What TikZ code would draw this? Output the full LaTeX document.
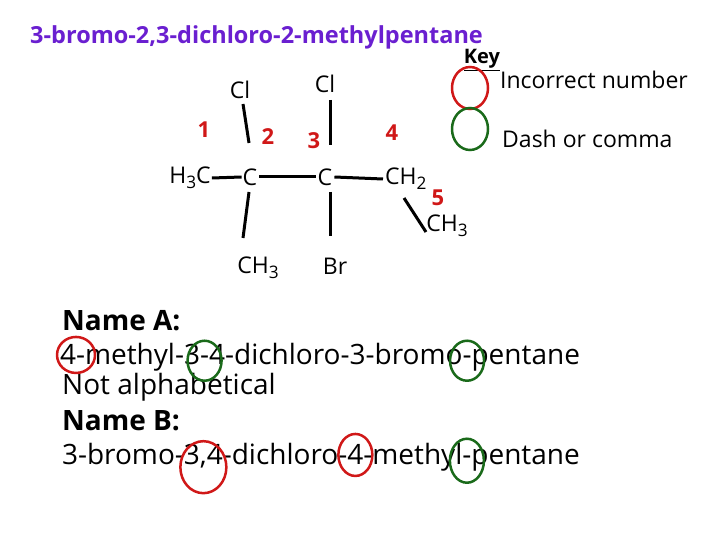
\documentclass[tikz,border=0pt]{standalone}
\usepackage{fontspec}
\setmainfont{Open Sans}
\definecolor{ttl}{HTML}{6A1FD0}
\definecolor{rnum}{HTML}{D01818}
\definecolor{gcirc}{HTML}{1A6A1A}
\newcommand{\sbs}[1]{\raisebox{-0.4ex}{\scalebox{0.75}{#1}}}
\begin{document}
\begin{tikzpicture}[x=1pt,y=-1pt,
  lbl/.style={inner sep=0pt,font=\fontsize{23}{23}\selectfont},
  num/.style={inner sep=0pt,text=rnum,font=\bfseries\fontsize{22}{22}\selectfont},
  bond/.style={line width=3pt},
  txt/.style={inner sep=0pt,anchor=west,font=\fontsize{28}{28}\selectfont},
  pc/.style={inner sep=0pt,outer sep=0pt,anchor=base west,font=\fontsize{28}{28}\selectfont},
  rc/.style={draw=rnum,line width=2.5pt},
  gc/.style={draw=gcirc,line width=2.5pt}]
\useasboundingbox (0,0) rectangle (720,540);
\node[inner sep=0pt,anchor=west,text=ttl,font=\bfseries\fontsize{23.5}{23.5}\selectfont] (title) at (30,37) {3-bromo-2,3-dichloro-2-methylpentane};
\node[inner sep=0pt,font=\bfseries\fontsize{20}{20}\selectfont] (key) at (482,60) {\underline{Key}};
\draw[rc] (470,88) ellipse (18 and 21);
\draw[gc] (470,129) ellipse (18 and 21);
\node[lbl,anchor=west] (inc) at (500,80) {Incorrect number};
\node[lbl,anchor=west] (dash) at (502,139) {Dash or comma};
% structure
\node[lbl] (cl1) at (240,90) {Cl};
\node[lbl] (cl2) at (325,84) {Cl};
\node[num] (n1) at (204,130) {1};
\node[num] (n2) at (268,137) {2};
\node[num] (n3) at (314,141) {3};
\node[num] (n4) at (392,133) {4};
\node[num] (n5) at (438,198) {5};
\node[lbl] (h3c) at (190,178) {H\sbs{3}C};
\node[lbl] (c2) at (250,177) {C};
\node[lbl] (c3) at (325,177) {C};
\node[lbl,anchor=west] (ch2) at (385,179) {CH\sbs{2}};
\node[lbl] (ch3a) at (258,268) {CH\sbs{3}};
\node[lbl] (br) at (335,266) {Br};
\node[lbl] (ch3b) at (447,226) {CH\sbs{3}};
\coordinate (a1) at (243,104); \coordinate (a2) at (249,143);
\coordinate (b1) at (330,100); \coordinate (b2) at (330,145);
\coordinate (d1) at (249,192); \coordinate (d2) at (243,238);
\coordinate (e1) at (330,192); \coordinate (e2) at (330,236);
\coordinate (f1) at (404,198); \coordinate (f2) at (426,232);
\draw[bond] ([xshift=1pt]h3c.east) -- ([xshift=-1pt]c2.west);
\draw[bond] ([xshift=2pt]c2.east) -- ([xshift=-2pt]c3.west);
\draw[bond] ([xshift=2pt]c3.east) -- ([xshift=-2pt]ch2.west);
\draw[bond] (a1) -- (a2);
\draw[bond] (b1) -- (b2);
\draw[bond] (d1) -- (d2);
\draw[bond] (e1) -- (e2);
\draw[bond] (f1) -- (f2);
% names
\node[txt,font=\bfseries\fontsize{28}{28}\selectfont] (na) at (62,321) {Name A:};
\node[pc] (p1) at (60,364) {4};
\node[pc] (p2) at (p1.base east) {-methyl-3};
\node[pc] (p3) at (p2.base east) {-};
\node[pc] (p4) at (p3.base east) {4-dichloro-3-bromo};
\node[pc] (p5) at (p4.base east) {-};
\node[pc] (p6) at (p5.base east) {pentane};
\node[txt] (nb) at (62,387) {Not alphabetical};
\node[txt,font=\bfseries\fontsize{28}{28}\selectfont] (nbb) at (62,421) {Name B:};
\node[pc] (q1) at (62,464) {3-bromo-3};
\node[pc] (q2) at (q1.base east) {,};
\node[pc] (q3) at (q2.base east) {4-dichloro-};
\node[pc] (q4) at (q3.base east) {4};
\node[pc] (q5) at (q4.base east) {-methyl};
\node[pc] (q6) at (q5.base east) {-};
\node[pc] (q7) at (q6.base east) {pentane};
\draw[rc] ([yshift=-1pt]p1.east) ellipse (19 and 18);
\draw[gc] ([yshift=-1pt]p3.center) ellipse (17 and 20);
\draw[gc] ([yshift=-1pt]p5.center) ellipse (17 and 20);
\draw[rc] ([yshift=-3pt]q2.center) ellipse (23 and 26);
\draw[rc] ([yshift=-1pt]q4.center) ellipse (17 and 21);
\draw[gc] ([yshift=-1pt]q6.center) ellipse (17 and 22);
\end{tikzpicture}
\end{document}
